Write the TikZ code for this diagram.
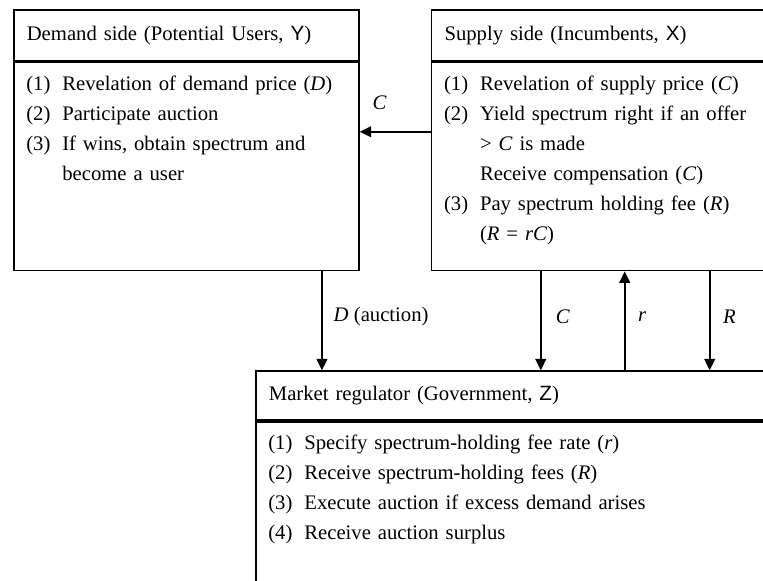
\documentclass[tikz,border=0pt]{standalone}
\usepackage{fontspec}
\setmainfont{Liberation Serif}
\newfontfamily\agentfont{Liberation Sans}
\usetikzlibrary{arrows,arrows.meta,positioning}

\newcommand{\mv}[1]{\textit{#1}}
\newcommand{\ag}[1]{{\agentfont #1}}
\newcommand{\itm}[1]{\makebox[20.9pt][l]{#1}}
\newcommand{\cont}{\hspace*{20.9pt}}

\tikzstyle{header}=[
	rectangle,
	draw,
	line width=1pt,
	inner xsep=7.5pt,
	inner ysep=0pt,
	minimum height=29.6pt,
	align=left,
	font=\fontsize{12}{17.4}\selectfont
]
\tikzstyle{taskbox}=[
	rectangle,
	draw,
	line width=1pt,
	inner sep=0pt,
	minimum height=120.6pt
]
\tikzstyle{tasklist}=[
	anchor=base west,
	inner sep=0pt,
	text width=290pt,
	align=left,
	font=\fontsize{12}{17.4}\selectfont
]
\tikzstyle{flow}=[
	-{Triangle[length=6.6pt,width=6.2pt]},
	line width=1pt
]
\tikzstyle{flowlabel}=[
	font=\fontsize{12}{17.4}\selectfont
]

\begin{document}
\begin{tikzpicture}
\useasboundingbox (-7.54pt,5.22pt) rectangle (435pt,-331.76pt);
\clip (-7.54pt,5.22pt) rectangle (435pt,-331.76pt);
% the three parties
\node [header, text width=185.1pt, anchor=north west] (DemandSide) at (0,0) {Demand side (Potential Users, \ag{Y})};
\node [taskbox, minimum width=200.1pt] (DemandTasks)[below=0pt of DemandSide] {};
\node [header, text width=200.2pt] (SupplySide)[right=41.2pt of DemandSide] {Supply side (Incumbents, \ag{X})};
\node [taskbox, minimum width=215.2pt] (SupplyTasks)[below=0pt of SupplySide] {};
\node [header, text width=301pt, minimum height=28.4pt] (Regulator)[below=57.4pt of DemandTasks.south west, anchor=north west, xshift=140.4pt] {Market regulator (Government, \ag{Z})};
\node [taskbox, minimum width=316pt, minimum height=133pt] (RegulatorTasks)[below=0pt of Regulator] {};
% what each party does
\node [tasklist] (DemandList) at ([xshift=7.5pt,yshift=-16.5pt]DemandTasks.north west) {%
	\itm{(1)}Revelation of demand price (\mv{D})\\
	\itm{(2)}Participate auction\\
	\itm{(3)}If wins, obtain spectrum and\\
	\cont become a user};
\node [tasklist] (SupplyList) at ([xshift=7.5pt,yshift=-16.5pt]SupplyTasks.north west) {%
	\itm{(1)}Revelation of supply price (\mv{C})\\
	\itm{(2)}Yield spectrum right if an offer\\
	\cont > \mv{C} is made\\
	\cont Receive compensation (\mv{C})\\
	\itm{(3)}Pay spectrum holding fee (\mv{R})\\
	\cont (\mv{R} = \mv{rC})};
\node [tasklist] (RegulatorList) at ([xshift=7.5pt,yshift=-16.5pt]RegulatorTasks.north west) {%
	\itm{(1)}Specify spectrum-holding fee rate (\mv{r})\\
	\itm{(2)}Receive spectrum-holding fees (\mv{R})\\
	\itm{(3)}Execute auction if excess demand arises\\
	\itm{(4)}Receive auction surplus};
% flows
\coordinate (cOffer) at ([yshift=-40.6pt]SupplyTasks.north west);
\draw [flow] (cOffer) -- (cOffer -| DemandTasks.east) node [flowlabel, midway, above=9pt, xshift=-9pt] {\mv{C}};
\coordinate (dBid) at ([xshift=179.2pt]DemandTasks.south west);
\draw [flow] (dBid) -- (dBid |- Regulator.north) node [flowlabel, midway, right=3pt, yshift=2.5pt] {\mv{D} (auction)};
\coordinate (cReport) at ([xshift=63.8pt]SupplyTasks.south west);
\draw [flow] (cReport) -- (cReport |- Regulator.north) node [flowlabel, midway, right=5pt, yshift=2.5pt] {\mv{C}};
\coordinate (rRate) at ([xshift=112.5pt]SupplyTasks.south west);
\draw [flow] (rRate |- Regulator.north) -- (rRate) node [flowlabel, midway, right=4pt, yshift=2.5pt] {\mv{r}};
\coordinate (rFee) at ([xshift=161.8pt]SupplyTasks.south west);
\draw [flow] (rFee) -- (rFee |- Regulator.north) node [flowlabel, midway, right=4pt, yshift=2.5pt] {\mv{R}};
\end{tikzpicture}
\end{document}
